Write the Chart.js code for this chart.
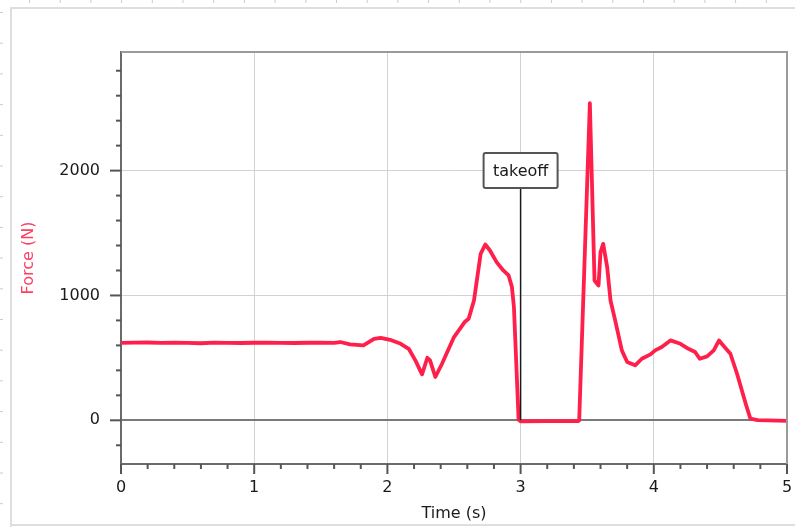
<!DOCTYPE html>
<html>
<head>
<meta charset="utf-8">
<script src="https://cdn.jsdelivr.net/npm/chart.js@4"></script>
<style>
  html, body { margin: 0; padding: 0; background: #fff; }
  canvas { display: block; }
</style>
</head>
<body>
<canvas id="forceChart" width="795" height="527"></canvas>
<script>
// force plate trace
const times = [
    0, 0.1, 0.2, 0.3, 0.4, 0.5, 0.6, 0.7, 0.8, 0.9, 1.0, 1.1, 1.2, 1.3, 1.4, 1.5, 1.6,
    1.645, 1.72, 1.82, 1.90, 1.95, 2.02, 2.10, 2.16, 2.21, 2.26, 2.30, 2.32, 2.36, 2.41,
    2.50, 2.58, 2.61, 2.65, 2.70, 2.735, 2.77, 2.82, 2.87, 2.91, 2.935, 2.95, 2.985, 3.0,
    3.2, 3.435, 3.44, 3.52, 3.555, 3.585, 3.60, 3.62, 3.65, 3.675, 3.71, 3.76, 3.80, 3.86,
    3.91, 3.975, 4.01, 4.06, 4.125, 4.20, 4.26, 4.31, 4.345, 4.40, 4.45, 4.49, 4.51, 4.575,
    4.625, 4.69, 4.725, 4.78, 5.0,
];
const forces = [
    620, 622, 623, 620, 621, 620, 617, 622, 620, 619, 621, 622, 620, 619, 621, 622, 620,
    627, 608, 600, 653, 661, 645, 613, 573, 480, 368, 501, 480, 347, 453,
    667, 787, 813, 960, 1333, 1408, 1360, 1267, 1200, 1160, 1067, 907, 5, -8,
    -6, -6, 0, 2540, 1120, 1080, 1347, 1413, 1227, 960, 800, 560, 467, 440,
    493, 528, 560, 587, 640, 613, 573, 547, 493, 512, 560, 640, 613, 533,
    373, 133, 13, 2, -4,
];

const xTickLabels = [0, 1, 2, 3, 4, 5];
const xMinorTicks = [0, 0.2, 0.4, 0.6, 0.8, 1, 1.2, 1.4, 1.6, 1.8, 2, 2.2, 2.4, 2.6, 2.8,
                     3, 3.2, 3.4, 3.6, 3.8, 4, 4.2, 4.4, 4.6, 4.8, 5];
const yTickLabels = [0, 1000, 2000];
const yMinorTicks = [-200, 0, 200, 400, 600, 800, 1000, 1200, 1400, 1600, 1800, 2000,
                     2200, 2400, 2600, 2800];

const takeoffTime = 3.0;
const takeoffText = 'takeoff';

const red  = '#ff1f4b';
const ink  = '#1a1a1a';
const font = { family: 'DejaVu Sans', size: 16 };

/* ── frame, tick marks, top/right border and the takeoff note ── */
const decor = {
    id: 'decor',
    beforeDraw(chart) {
        const c = chart.ctx;
        c.save();
        c.fillStyle = '#fff';
        c.fillRect(0, 0, chart.width, chart.height);
        // light outer frame
        c.strokeStyle = '#dedede';
        c.lineWidth = 2;
        c.beginPath();
        c.moveTo(11, chart.height);
        c.lineTo(11, 8);
        c.lineTo(chart.width, 8);
        c.moveTo(11, 525);
        c.lineTo(chart.width, 525);
        c.stroke();
        // little ruler marks on the outer edge
        c.strokeStyle = '#b9cdf0';
        c.lineWidth = 1;
        for (let x = 29.5; x < chart.width; x += 30.7) {
            c.beginPath(); c.moveTo(x, 0); c.lineTo(x, 3); c.stroke();
        }
        for (let y = 12.5; y < chart.height; y += 30.7) {
            c.beginPath(); c.moveTo(0, y); c.lineTo(3, y); c.stroke();
        }
        c.restore();
    },
    afterDatasetsDraw(chart) {
        const c = chart.ctx;
        const { left, right, top, bottom } = chart.chartArea;
        const xs = chart.scales.x, ys = chart.scales.y;
        c.save();
        // top and right edges of the plot box
        c.strokeStyle = '#9a9a9a';
        c.lineWidth = 2;
        c.beginPath();
        c.moveTo(left, top);
        c.lineTo(right, top);
        c.lineTo(right, bottom);
        c.stroke();
        // tick marks
        c.strokeStyle = '#555';
        c.lineWidth = 2;
        yMinorTicks.forEach(v => {
            const y = ys.getPixelForValue(v);
            const len = yTickLabels.includes(v) ? 11 : 5;
            c.beginPath(); c.moveTo(left - len, y); c.lineTo(left, y); c.stroke();
        });
        xMinorTicks.forEach(v => {
            const x = xs.getPixelForValue(v);
            const len = xTickLabels.includes(v) ? 10 : 5;
            c.beginPath(); c.moveTo(x, bottom); c.lineTo(x, bottom + len); c.stroke();
        });
        // takeoff annotation
        const tx = xs.getPixelForValue(takeoffTime);
        const boxW = 74, boxH = 35, boxTop = 153;
        c.strokeStyle = '#1a1a1a';
        c.lineWidth = 1.5;
        c.beginPath();
        c.moveTo(tx, boxTop + boxH);
        c.lineTo(tx, ys.getPixelForValue(0));
        c.stroke();
        c.fillStyle = '#fff';
        c.strokeStyle = '#555';
        c.lineWidth = 2;
        c.beginPath();
        c.roundRect(tx - boxW / 2, boxTop, boxW, boxH, 2);
        c.fill();
        c.stroke();
        c.fillStyle = ink;
        c.font = '16px "DejaVu Sans"';
        c.textAlign = 'center';
        c.textBaseline = 'middle';
        c.fillText(takeoffText, tx, boxTop + boxH / 2 + 1);
        c.restore();
    },
};

new Chart(document.getElementById('forceChart'), {
    type: 'line',
    data: {
        datasets: [{
            data: times.map((t, i) => ({ x: t, y: forces[i] })),
            borderColor: red,
            borderWidth: 3.8,
            borderJoinStyle: 'round',
            pointRadius: 0,
            tension: 0,
            fill: false,
        }],
    },
    options: {
        responsive: false,
        animation: false,
        devicePixelRatio: 1,
        layout: { padding: { top: 52, right: 8, left: 0, bottom: 0 } },
        plugins: { legend: { display: false }, tooltip: { enabled: false } },
        scales: {
            x: {
                type: 'linear',
                min: 0,
                max: 5,
                afterBuildTicks: s => { s.ticks = xMinorTicks.map(v => ({ value: v })); },
                afterFit: s => { s.height = 63; s.paddingLeft = 0; s.paddingRight = 0; },
                grid: {
                    drawTicks: false,
                    color: ctx => (xTickLabels.includes(ctx.tick.value) && ctx.tick.value > 0 && ctx.tick.value < 5) ? '#d2d2d2' : 'rgba(0,0,0,0)',
                    lineWidth: 1,
                },
                border: { color: '#6a6a6a', width: 2 },
                ticks: {
                    autoSkip: false,
                    maxRotation: 0,
                    padding: 14,
                    color: ink,
                    font,
                    callback: v => xTickLabels.includes(v) ? String(v) : '',
                },
                title: { display: true, text: 'Time (s)', color: ink, font, padding: { top: 6, bottom: 4 } },
            },
            y: {
                type: 'linear',
                min: -350,
                max: 2950,
                afterBuildTicks: s => { s.ticks = yMinorTicks.map(v => ({ value: v })); },
                afterFit: s => { s.width = 121; s.paddingTop = 0; s.paddingBottom = 0; },
                grid: {
                    drawTicks: false,
                    color: ctx => ctx.tick.value === 0 ? '#7a7a7a'
                        : yTickLabels.includes(ctx.tick.value) ? '#d2d2d2' : 'rgba(0,0,0,0)',
                    lineWidth: ctx => ctx.tick.value === 0 ? 2 : 1,
                },
                border: { color: '#6a6a6a', width: 2 },
                ticks: {
                    padding: 21,
                    color: ink,
                    font,
                    callback: v => yTickLabels.includes(v) ? String(v) : '',
                },
                title: { display: true, text: 'Force (N)', color: '#ff4063', font, padding: { top: 19, bottom: 0 } },
            },
        },
    },
    plugins: [decor],
});
</script>
</body>
</html>
